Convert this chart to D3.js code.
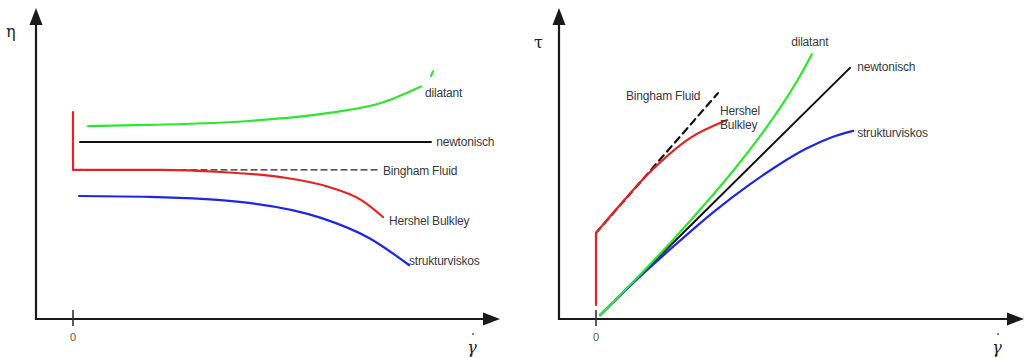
<!DOCTYPE html>
<html><head><meta charset="utf-8">
<script src="https://cdn.jsdelivr.net/npm/d3@7"></script>
<style>body{margin:0;background:#fff}svg{display:block}</style>
</head><body>
<svg id="c" width="1026" height="358"></svg>
<script>
// ---------- data (arbitrary units, x: shear rate, y: viscosity / shear stress) ----------
const xTickValues = [0];
const xTickLabels = ["0"];

// Left panel: viscosity η vs shear rate
const leftDilatant = [[0.375,6.43],[1.9,6.47],[4.4,6.6],[6.4,6.87],[7.7,7.2],[8.7,7.75]];
const leftDilatantTip = [[8.95,8.1],[9.0,8.25]];
const leftNewton = [[0.175,5.9],[8.95,5.9]];
const leftBinghamStep = [[0,6.9],[0,4.97],[0.2,4.97]];
const leftBinghamDash = [[2.2,4.97],[7.6,4.97]];
const leftHershel = [[0.2,4.97],[2.2,4.97],[3.7,4.9],[5.2,4.73],[6.4,4.4],[7.2,3.97],[7.75,3.4]];
const leftStruktur = [[0.15,4.1],[1.9,4.07],[4.4,3.87],[6.2,3.37],[7.4,2.7],[8.4,1.8]];

// Right panel: shear stress τ vs shear rate
const rightHershelStep = [[0,0.47],[0,2.87]];
const rightHershel = [[0,2.87],[0.6,3.8],[1.35,4.9],[2.35,6.03],[3.28,6.63]];
const rightBingham = [[0,2.87],[3.05,7.53]];
const rightDilatant = [[0.1,0.13],[1.07,1.43],[1.94,2.66],[2.73,3.84],[3.44,4.96],[4.06,6.02],[4.59,7.01],[5.04,7.96],[5.4,8.83]];
const rightNewton = [[0.1,0.13],[6.35,8.37]];
const rightStruktur = [[0.1,0.13],[1.13,1.45],[2.1,2.61],[2.99,3.62],[3.82,4.46],[4.58,5.15],[5.26,5.68],[5.88,6.05],[6.43,6.27]];

const labelsLeft = [
  {t:"dilatant", at:[8.8,7.55]},
  {t:"newtonisch", at:[9.08,5.9]},
  {t:"Bingham Fluid", at:[7.75,4.95]},
  {t:"Hershel Bulkley", at:[7.9,3.28]},
  {t:"strukturviskos", at:[8.4,1.95]}
];
const labelsRight = [
  {t:"Bingham Fluid", at:[0.75,7.45]},
  {t:"Hershel", at:[3.1,6.95]},
  {t:"Bulkley", at:[3.1,6.48]},
  {t:"dilatant", at:[4.88,9.25]},
  {t:"newtonisch", at:[6.53,8.4]},
  {t:"strukturviskos", at:[6.53,6.2]}
];

// ---------- drawing ----------
const svg = d3.select("#c");
const col = {green:"#2fe62f", black:"#111", red:"#e32222", blue:"#1f26e0", axis:"#1a1a1a", text:"#3a3a3a"};

function panel(cfg){
  const x = d3.scaleLinear().domain([0,10]).range([cfg.x0, cfg.x0+400]);
  const y = d3.scaleLinear().domain([0,10]).range([319, 19]);
  const g = svg.append("g");
  const ax = cfg.axisX, top = 8, base = 319, right = cfg.right;
  g.append("line").attr("x1",ax).attr("y1",base+1).attr("x2",ax).attr("y2",top+14)
    .attr("stroke",col.axis).attr("stroke-width",2.2);
  g.append("path").attr("d",`M${ax},${top} L${ax-6.5},${top+17} L${ax+6.5},${top+17} Z`).attr("fill",col.axis);
  g.append("line").attr("x1",ax-1).attr("y1",base).attr("x2",right-14).attr("y2",base)
    .attr("stroke",col.axis).attr("stroke-width",2.2);
  g.append("path").attr("d",`M${right},${base} L${right-17},${base-6.5} L${right-17},${base+6.5} Z`).attr("fill",col.axis);
  xTickValues.forEach((v,i)=>{
    g.append("line").attr("x1",x(v)).attr("x2",x(v)).attr("y1",base-9).attr("y2",base+7)
      .attr("stroke","#333").attr("stroke-width",1.6);
    g.append("text").attr("x",x(v)).attr("y",base+22).attr("text-anchor","middle")
      .attr("font-family","Liberation Sans, Arial, sans-serif").attr("font-size",11).attr("fill","#555")
      .text(xTickLabels[i]);
  });
  g.append("text").attr("x",cfg.yTitleX).attr("y",cfg.yTitleY).attr("font-family","DejaVu Serif, serif")
    .attr("font-size",16).attr("fill","#222").text(cfg.yTitle);
  g.append("text").attr("x",cfg.gammaX).attr("y",353).attr("text-anchor","middle")
    .attr("font-family","DejaVu Serif, serif").attr("font-style","italic").attr("font-size",16).attr("fill","#222").text("γ");
  g.append("circle").attr("cx",cfg.gammaX+1).attr("cy",334).attr("r",1.1).attr("fill","#666");
  cfg.series.forEach(s=>{
    const line = d3.line().x(d=>x(d[0])).y(d=>y(d[1])).curve(s.curve||d3.curveLinear);
    g.append("path").attr("d",line(s.data)).attr("fill","none").attr("stroke",s.color)
      .attr("stroke-width",s.w||2.2).attr("stroke-dasharray",s.dash||null)
      .attr("stroke-linecap","round").attr("stroke-linejoin","round");
  });
  cfg.labels.forEach(l=>{
    g.append("text").attr("x",x(l.at[0])).attr("y",y(l.at[1])).attr("dy","0.35em")
      .attr("font-family","Liberation Sans, Arial, sans-serif").attr("font-size",12)
      .attr("letter-spacing","-0.2").attr("fill",col.text).text(l.t);
  });
}

panel({
  x0:73, axisX:36, right:500, yTitle:"η", yTitleX:6, yTitleY:37, gammaX:472,
  series:[
    {data:leftDilatant, color:col.green, curve:d3.curveMonotoneX},
    {data:leftDilatantTip, color:col.green},
    {data:leftNewton, color:col.black, w:2},
    {data:leftBinghamDash, color:"#222", w:1.3, dash:"6,4"},
    {data:leftHershel, color:col.red, curve:d3.curveMonotoneX},
    {data:leftBinghamStep, color:col.red},
    {data:leftStruktur, color:col.blue, curve:d3.curveMonotoneX}
  ],
  labels:labelsLeft
});

panel({
  x0:596, axisX:559, right:1024, yTitle:"τ", yTitleX:534, yTitleY:48, gammaX:997,
  series:[
    {data:rightNewton, color:col.black, w:2},
    {data:rightStruktur, color:col.blue, curve:d3.curveCatmullRom},
    {data:rightDilatant, color:col.green, curve:d3.curveCatmullRom},
    {data:rightBingham, color:"#111", w:2.2, dash:"7,5"},
    {data:rightHershel, color:col.red, curve:d3.curveCatmullRom},
    {data:rightHershelStep, color:col.red}
  ],
  labels:labelsRight
});
</script>
</body></html>
